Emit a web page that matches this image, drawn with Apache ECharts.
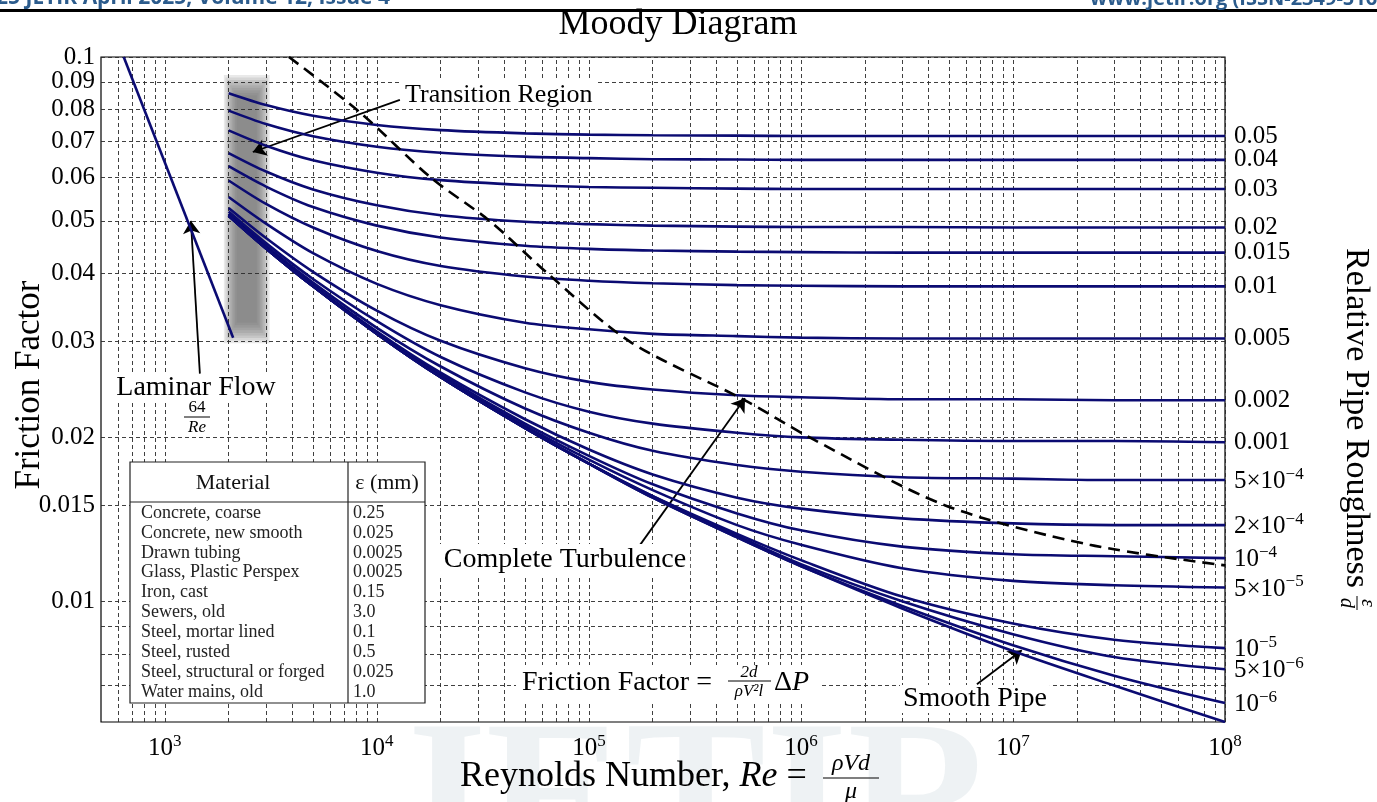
<!DOCTYPE html>
<html><head><meta charset="utf-8">
<script src="https://cdn.jsdelivr.net/npm/echarts@6/dist/echarts.min.js"></script>
<style>html,body{margin:0;padding:0;background:#fff}#c{width:1377px;height:802px}</style>
</head><body><div id="c"></div>
<script>
// ---------------- data ----------------
const reynolds = [2000, 3000, 5000, 1e4, 2e4, 5e4, 1e5, 2e5, 5e5, 1e6, 3e6, 1e7, 3e7, 1e8];

const f_eps_0_05  = [0.0858,0.0816,0.0780,0.0750,0.0734,0.0724,0.0720,0.0718,0.0717,0.0716,0.0716,0.0716,0.0716,0.0716];
const f_eps_0_04  = [0.0797,0.0753,0.0715,0.0684,0.0667,0.0656,0.0652,0.0649,0.0648,0.0647,0.0647,0.0647,0.0647,0.0647];
const f_eps_0_03  = [0.0733,0.0687,0.0646,0.0613,0.0594,0.0582,0.0577,0.0575,0.0573,0.0572,0.0572,0.0572,0.0572,0.0572];
const f_eps_0_02  = [0.0666,0.0616,0.0571,0.0534,0.0512,0.0498,0.0493,0.0490,0.0488,0.0487,0.0487,0.0486,0.0486,0.0486];
const f_eps_0_015 = [0.0630,0.0578,0.0530,0.0490,0.0466,0.0450,0.0444,0.0441,0.0439,0.0438,0.0437,0.0437,0.0437,0.0437];
const f_eps_0_01  = [0.0593,0.0537,0.0486,0.0440,0.0413,0.0395,0.0388,0.0384,0.0381,0.0380,0.0379,0.0379,0.0379,0.0379];
const f_eps_0_005 = [0.0553,0.0494,0.0436,0.0383,0.0350,0.0325,0.0316,0.0310,0.0307,0.0305,0.0304,0.0304,0.0304,0.0304];
const f_eps_0_002 = [0.0528,0.0465,0.0403,0.0342,0.0301,0.0268,0.0253,0.0245,0.0239,0.0237,0.0235,0.0235,0.0234,0.0234];
const f_eps_0_001 = [0.0520,0.0455,0.0391,0.0327,0.0281,0.0242,0.0223,0.0212,0.0204,0.0200,0.0198,0.0197,0.0197,0.0196];
const f_eps_5e_4  = [0.0515,0.0450,0.0385,0.0318,0.0270,0.0226,0.0204,0.0189,0.0178,0.0173,0.0169,0.0168,0.0167,0.0167];
const f_eps_2e_4  = [0.0513,0.0447,0.0381,0.0313,0.0263,0.0216,0.0190,0.0171,0.0155,0.0148,0.0142,0.0139,0.0138,0.0138];
const f_eps_1e_4  = [0.0512,0.0446,0.0380,0.0312,0.0261,0.0212,0.0185,0.0164,0.0145,0.0135,0.0126,0.0122,0.0121,0.0120];
const f_eps_5e_5  = [0.0511,0.0446,0.0379,0.0311,0.0259,0.0210,0.0182,0.0160,0.0138,0.0127,0.0115,0.0109,0.0107,0.0106];
const f_eps_1e_5  = [0.0511,0.0445,0.0379,0.0310,0.0258,0.0208,0.0179,0.0156,0.0133,0.0119,0.0102,0.0091,0.0085,0.0082];
const f_eps_5e_6  = [0.0511,0.0445,0.0379,0.0310,0.0258,0.0208,0.0179,0.0156,0.0132,0.0117,0.0100,0.0087,0.0079,0.0075];
const f_eps_1e_6  = [0.0511,0.0445,0.0379,0.0310,0.0258,0.0208,0.0179,0.0155,0.0131,0.0116,0.0098,0.0083,0.0073,0.0065];
const f_smooth    = [0.0511,0.0445,0.0379,0.0310,0.0258,0.0208,0.0179,0.0155,0.0131,0.0116,0.0097,0.0081,0.0070,0.0060];

const roughnessLabels = ['0.05','0.04','0.03','0.02','0.015','0.01','0.005','0.002','0.001',
  '5×10^−4','2×10^−4','10^−4','5×10^−5','10^−5','5×10^−6','10^−6'];

const laminarRe = [640, 2100];
const laminarF  = [0.1, 0.0305];

const turbulenceRe = [3850, 8300, 18000, 34000, 64000, 156000, 545000, 1100000, 4800000, 23000000, 100000000];
const turbulenceF  = [0.1, 0.0792, 0.060, 0.050, 0.040, 0.030, 0.0234, 0.020, 0.015, 0.0127, 0.01164];

// transition band core (Re range, f range) – drawn with soft edges
const transitionBand = [[2180, 0.0850], [2720, 0.0325]];

const xGridValues = [600,700,800,900,1e3,2e3,3e3,4e3,5e3,6e3,7e3,8e3,9e3,1e4,2e4,3e4,4e4,5e4,6e4,7e4,8e4,9e4,
  1e5,2e5,3e5,4e5,5e5,6e5,7e5,8e5,9e5,1e6,2e6,3e6,4e6,5e6,6e6,7e6,8e6,9e6,1e7,2e7,3e7,4e7,5e7,6e7,7e7,8e7,9e7,1e8];
const xTickValues = [1e3, 1e4, 1e5, 1e6, 1e7, 1e8];
const xTickExponents = ['3','4','5','6','7','8'];
const yGridValues = [0.007,0.008,0.009,0.01,0.015,0.02,0.03,0.04,0.05,0.06,0.07,0.08,0.09,0.1];
const yTickValues = [0.01,0.015,0.02,0.03,0.04,0.05,0.06,0.07,0.08,0.09,0.1];
const yTickLabels = ['0.01','0.015','0.02','0.03','0.04','0.05','0.06','0.07','0.08','0.09','0.1'];

// arrows: [fromRe, fromF, toRe, toF]
const arrowTransition = [12840, 0.0834, 2600, 0.0669];
const arrowLaminar    = [1463, 0.0262, 1327, 0.0500];
const arrowTurbulence = [174000, 0.01268, 545000, 0.0236];
const arrowSmooth     = [6760000, 0.00704, 11000000, 0.00813];

const materials = ['Concrete, coarse','Concrete, new smooth','Drawn tubing','Glass, Plastic Perspex','Iron, cast',
  'Sewers, old','Steel, mortar lined','Steel, rusted','Steel, structural or forged','Water mains, old'];
const materialEps = ['0.25','0.025','0.0025','0.0025','0.15','3.0','0.1','0.5','0.025','1.0'];

// ---------------- chart ----------------
const SERIF = "'Liberation Serif','DejaVu Serif',serif";
const NAVY = '#0b0b72';
const roughnessCurves = [f_eps_0_05,f_eps_0_04,f_eps_0_03,f_eps_0_02,f_eps_0_015,f_eps_0_01,f_eps_0_005,f_eps_0_002,
  f_eps_0_001,f_eps_5e_4,f_eps_2e_4,f_eps_1e_4,f_eps_5e_5,f_eps_1e_5,f_eps_5e_6,f_eps_1e_6];

function richLabel(s) {
  const p = s.split('^');
  return p.length > 1 ? '{n|' + p[0] + '}{s|' + p[1] + '}' : '{n|' + s + '}';
}
const supRich = {
  n: { fontFamily: SERIF, fontSize: 25, color: '#000', verticalAlign: 'bottom' },
  s: { fontFamily: SERIF, fontSize: 17, color: '#000', verticalAlign: 'bottom', padding: [0, 0, 11, 0] }
};

const series = [];

// grid lines + tick labels drawn through the axes' scales
series.push({
  type: 'line', data: [[1e8, 0.1]], symbol: 'none', lineStyle: { opacity: 0 }, silent: true, z: 1,
  markLine: {
    silent: true, animation: false, symbol: ['none', 'none'], precision: 8,
    lineStyle: { type: [4, 3], color: '#2a2a2a', width: 0.9 },
    label: { show: false },
    data: [
      ...xGridValues.map(v => {
        const k = xTickValues.indexOf(v);
        return { xAxis: v, label: k < 0 ? { show: false } : {
          show: true, position: 'start', distance: 11, formatter: '{n|10}{s|' + xTickExponents[k] + '}', rich: supRich } };
      }),
      ...yGridValues.map(v => {
        const k = yTickValues.indexOf(v);
        return { yAxis: v, label: k < 0 ? { show: false } : {
          show: true, position: 'start', distance: 6, formatter: yTickLabels[k],
          fontFamily: SERIF, fontSize: 25, color: '#000' } };
      })
    ]
  }
});

// transition band: stacked translucent layers give the blurred look
const bandLayers = [];
for (let k = 0; k < 9; k++) {
  const gx = Math.pow(10, 0.0075 * k), gy = Math.pow(10, 0.0047 * k);
  bandLayers.push([
    { coord: [transitionBand[0][0] / gx, transitionBand[0][1] * gy] },
    { coord: [transitionBand[1][0] * gx, transitionBand[1][1] / gy] }
  ]);
}
series.push({
  type: 'line', data: [[2400, 0.05]], symbol: 'none', lineStyle: { opacity: 0 }, silent: true, z: 3,
  markArea: {
    silent: true, animation: false,
    itemStyle: { color: 'rgba(105,105,105,0.15)' },
    data: bandLayers
  }
});

roughnessCurves.forEach((vals, i) => {
  series.push({
    type: 'line', silent: true, z: 5, symbol: 'none', showSymbol: false, smooth: 0.3,
    data: reynolds.map((re, j) => [re, vals[j]]),
    lineStyle: { color: NAVY, width: 2.6 },
    endLabel: { show: true, distance: 9, formatter: () => richLabel(roughnessLabels[i]), rich: supRich }
  });
});
series.push({
  type: 'line', silent: true, z: 5, symbol: 'none', showSymbol: false, smooth: 0.3,
  data: reynolds.map((re, j) => [re, f_smooth[j]]),
  lineStyle: { color: NAVY, width: 2.6 }
});
series.push({
  type: 'line', silent: true, z: 5, symbol: 'none', showSymbol: false,
  data: laminarRe.map((re, j) => [re, laminarF[j]]),
  lineStyle: { color: NAVY, width: 2.6 }
});
series.push({
  type: 'line', silent: true, z: 6, symbol: 'none', showSymbol: false, smooth: 0.3,
  data: turbulenceRe.map((re, j) => [re, turbulenceF[j]]),
  lineStyle: { color: '#000', width: 2.6, type: [12, 7] }
});

// arrows
const arrowItem = a => [{ coord: [a[0], a[1]] }, { coord: [a[2], a[3]] }];
series.push({
  type: 'line', data: [[1e8, 0.1]], symbol: 'none', lineStyle: { opacity: 0 }, silent: true, z: 8,
  markLine: {
    silent: true, animation: false, symbol: ['none', 'arrow'], symbolSize: 13, precision: 8,
    lineStyle: { type: 'solid', color: '#000', width: 1.8 }, label: { show: false },
    data: [arrowItem(arrowTransition), arrowItem(arrowLaminar), arrowItem(arrowTurbulence), arrowItem(arrowSmooth)]
  }
});

// ---------------- annotations (graphic) ----------------
const txt = (x, y, text, size, opts = {}) => ({
  type: 'text', x, y, z: 20, style: Object.assign({
    text, font: size + 'px ' + SERIF, fill: '#000', align: 'left', verticalAlign: 'middle' }, opts)
});
const hline = (x1, x2, y, w = 1) => ({ type: 'line', z: 21, shape: { x1, y1: y, x2, y2: y }, style: { stroke: '#000', lineWidth: w } });

const tableChildren = [
  { type: 'rect', z: 20, shape: { x: 0, y: 0, width: 295, height: 241 }, style: { fill: '#fff', stroke: '#222', lineWidth: 1.2 } },
  { type: 'line', z: 21, shape: { x1: 218, y1: 0, x2: 218, y2: 241 }, style: { stroke: '#222', lineWidth: 1.2 } },
  { type: 'line', z: 21, shape: { x1: 0, y1: 40, x2: 295, y2: 40 }, style: { stroke: '#222', lineWidth: 1.2 } },
  { type: 'text', z: 21, x: 103, y: 21, style: { text: 'Material', font: '22px ' + SERIF, fill: '#111', align: 'center', verticalAlign: 'middle' } },
  { type: 'text', z: 21, x: 257, y: 21, style: { text: 'ε (mm)', font: '22px ' + SERIF, fill: '#111', align: 'center', verticalAlign: 'middle' } }
];
materials.forEach((m, i) => {
  tableChildren.push({ type: 'text', z: 21, x: 11, y: 51 + i * 19.9, style: { text: m, font: '18px ' + SERIF, fill: '#222', verticalAlign: 'middle' } });
  tableChildren.push({ type: 'text', z: 21, x: 223, y: 51 + i * 19.9, style: { text: materialEps[i], font: '18px ' + SERIF, fill: '#222', verticalAlign: 'middle' } });
});

const graphic = [
  // faint watermark
  { type: 'text', x: 690, y: 705, z: -5, style: { text: 'JETIR', font: 'bold 210px ' + SERIF, fill: 'rgba(170,190,200,0.2)', align: 'center', verticalAlign: 'top' } },
  // page header (cut at the top edge)
  { type: 'rect', z: 20, shape: { x: 0, y: 9, width: 1377, height: 3 }, style: { fill: '#000' } },
  { type: 'text', x: -28, y: 9, z: 20, style: { text: '2025 JETIR April 2025, Volume 12, Issue 4', font: 'bold 21px "Open Sans",sans-serif', fill: '#2b5b8c', verticalAlign: 'bottom' } },
  { type: 'text', x: 1090, y: 9, z: 20, style: { text: 'www.jetir.org (ISSN-2349-5162)', font: 'bold 20px "Open Sans",sans-serif', fill: '#2b5b8c', verticalAlign: 'bottom' } },
  // title
  txt(678, 25, 'Moody Diagram', 36, { align: 'center' }),
  // y title
  { type: 'text', x: 30, y: 385, rotation: Math.PI / 2, z: 20, style: { text: 'Friction Factor', font: '35px ' + SERIF, fill: '#000', align: 'center', verticalAlign: 'middle' } },
  // x title
  { type: 'text', x: 460, y: 777, z: 20, style: {
      text: '{n|Reynolds Number, }{i|Re}{n| = }', font: '36px ' + SERIF, fill: '#000', verticalAlign: 'middle',
      rich: { n: { font: '36px ' + SERIF }, i: { font: 'italic 36px ' + SERIF } } } },
  txt(851, 764, 'ρVd', 24, { align: 'center', font: 'italic 24px ' + SERIF }),
  hline(823, 879, 778, 1.2),
  txt(851, 792, 'μ', 24, { align: 'center', font: 'italic 24px ' + SERIF }),
  // right title
  { type: 'group', x: 1356, y: 416, rotation: -Math.PI / 2, z: 20, children: [
      { type: 'text', x: -168, y: 0, style: { text: 'Relative Pipe Roughness', font: '34px ' + SERIF, fill: '#000', verticalAlign: 'middle' } },
      { type: 'text', x: 187, y: -11, style: { text: 'ε', font: 'italic 20px ' + SERIF, fill: '#000', align: 'center', verticalAlign: 'middle' } },
      { type: 'line', shape: { x1: 180, y1: -1, x2: 194, y2: -1 }, style: { stroke: '#000', lineWidth: 1 } },
      { type: 'text', x: 187, y: 10, style: { text: 'd', font: 'italic 20px ' + SERIF, fill: '#000', align: 'center', verticalAlign: 'middle' } }
  ] },
  // annotations
  txt(402, 95, 'Transition Region', 26, { backgroundColor: '#fff', padding: [1, 3] }),
  txt(196, 388, 'Laminar Flow', 28, { align: 'center', backgroundColor: '#fff', padding: [0, 3] }),
  txt(197, 408, '64', 17, { align: 'center' }),
  hline(184, 210, 417, 1),
  txt(197, 428, 'Re', 17, { align: 'center', font: 'italic 17px ' + SERIF }),
  txt(565, 560, 'Complete Turbulence', 28, { align: 'center', backgroundColor: '#fff', padding: [2, 4] }),
  { type: 'rect', z: 19, shape: { x: 516, y: 665, width: 304, height: 36 }, style: { fill: '#fff' } },
  txt(522, 683, 'Friction Factor =', 28),
  txt(749, 673, '2d', 17, { align: 'center', font: 'italic 17px ' + SERIF }),
  hline(728, 771, 681, 1),
  txt(749, 692, 'ρV²l', 17, { align: 'center', font: 'italic 17px ' + SERIF }),
  { type: 'text', x: 774, y: 683, z: 20, style: { text: '{n|Δ}{i|P}', font: '28px ' + SERIF, fill: '#000', verticalAlign: 'middle',
      rich: { n: { font: '28px ' + SERIF }, i: { font: 'italic 28px ' + SERIF } } } },
  txt(900, 699, 'Smooth Pipe', 28, { backgroundColor: '#fff', padding: [0, 3] }),
  // material table
  { type: 'group', x: 130, y: 462, z: 20, children: tableChildren }
];

const chart = echarts.init(document.getElementById('c'), null, { renderer: 'canvas' });
chart.setOption({
  animation: false,
  backgroundColor: '#fff',
  grid: { left: 101, top: 57, width: 1124, height: 665, show: true, borderColor: '#000', borderWidth: 1.2, backgroundColor: 'transparent' },
  xAxis: { type: 'log', logBase: 10, min: 500, max: 1e8, axisLine: { show: false }, axisTick: { show: false }, axisLabel: { show: false }, splitLine: { show: false } },
  yAxis: { type: 'log', logBase: 10, min: 0.006, max: 0.1, axisLine: { show: false }, axisTick: { show: false }, axisLabel: { show: false }, splitLine: { show: false } },
  series,
  graphic
});
</script></body></html>
